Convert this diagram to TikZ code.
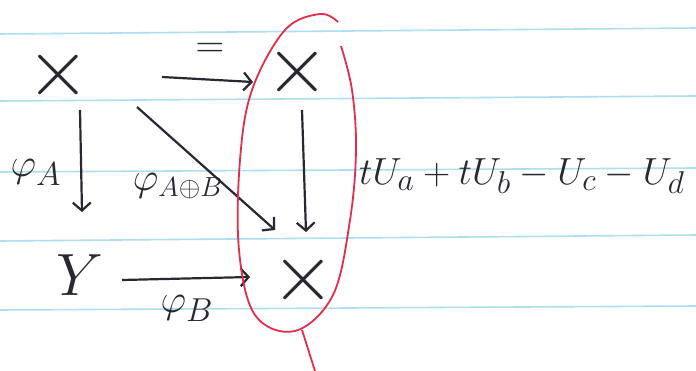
\documentclass[tikz,border=0pt]{standalone}
\usepackage{graphicx}
\usetikzlibrary{arrows.meta,calc}
\definecolor{rule}{RGB}{175,222,240}
\definecolor{ink}{RGB}{40,40,48}
\definecolor{pen}{RGB}{228,45,75}
\newcommand{\bigobj}[1]{\scalebox{3.3}{$#1$}}
\newcommand{\biglbl}[1]{\scalebox{1.6}{$#1$}}
\begin{document}
\begin{tikzpicture}[x=1pt,y=-1pt,
  obj/.style={text=ink,font=\Huge,inner sep=0pt},
  lbl/.style={text=ink,font=\Huge,inner sep=0pt},
  arr/.style={draw=ink,line width=2.2pt,-{Straight Barb[length=8pt,width=18pt]}},
  rl/.style={draw=rule,line width=1.6pt}]
\useasboundingbox (0,0) rectangle (696,371);
\fill[white] (0,0) rectangle (696,371);
% ruled lines
\draw[rl] (0,34) -- (696,28);
\draw[rl] (0,101) -- (696,96);
\draw[rl] (0,172) -- (696,168);
\draw[rl] (0,241) -- (696,235);
\draw[rl] (0,310) -- (696,306);
% objects
\node[obj] (xtl) at (58,75) {\bigobj{\times}};
\node[obj] (xtr) at (297,72) {\bigobj{\times}};
\node[obj] (y) at (80,275) {\scalebox{2.4}{$Y$}};
\node[obj] (xbr) at (303,280) {\bigobj{\times}};
% arrows
\draw[arr] ($(xtl)+(104,2)$) -- ($(xtr)+(-44,10)$);
\node[lbl] (eq) at (210,50) {\biglbl{=}};
\draw[arr] ($(xtl)+(22,35)$) -- ($(y)+(2,-63)$);
\node[lbl] (pa) at (36,172) {\biglbl{\varphi_A}};
\draw[arr] ($(xtl)+(79,32)$) -- ($(xbr)+(-28,-50)$);
\node[lbl] (pab) at (178,186) {\biglbl{\varphi_{\scriptscriptstyle A\oplus B}}};
\draw[arr] ($(xtr)+(5,38)$) -- ($(xbr)+(3,-48)$);
\draw[arr] ($(y)+(42,5)$) -- ($(xbr)+(-53,-3)$);
\node[lbl] (pb) at (187,308) {\biglbl{\varphi_B}};
% red loop
\draw[pen,line width=1.8pt] plot[smooth,tension=0.6] coordinates
  {(341,46) (352,90) (356,150) (350,220) (333,295) (295,331) (255,315) (239,250) (240,160) (252,90) (285,30) (320,14) (338,22)};
\draw[pen,line width=1.8pt] (302,330) -- (315,371);
% expression
\node[lbl,anchor=west] (expr) at (359,176) {\scalebox{1.52}{$tU_a+tU_b-U_c-U_d$}};
\end{tikzpicture}
\end{document}
